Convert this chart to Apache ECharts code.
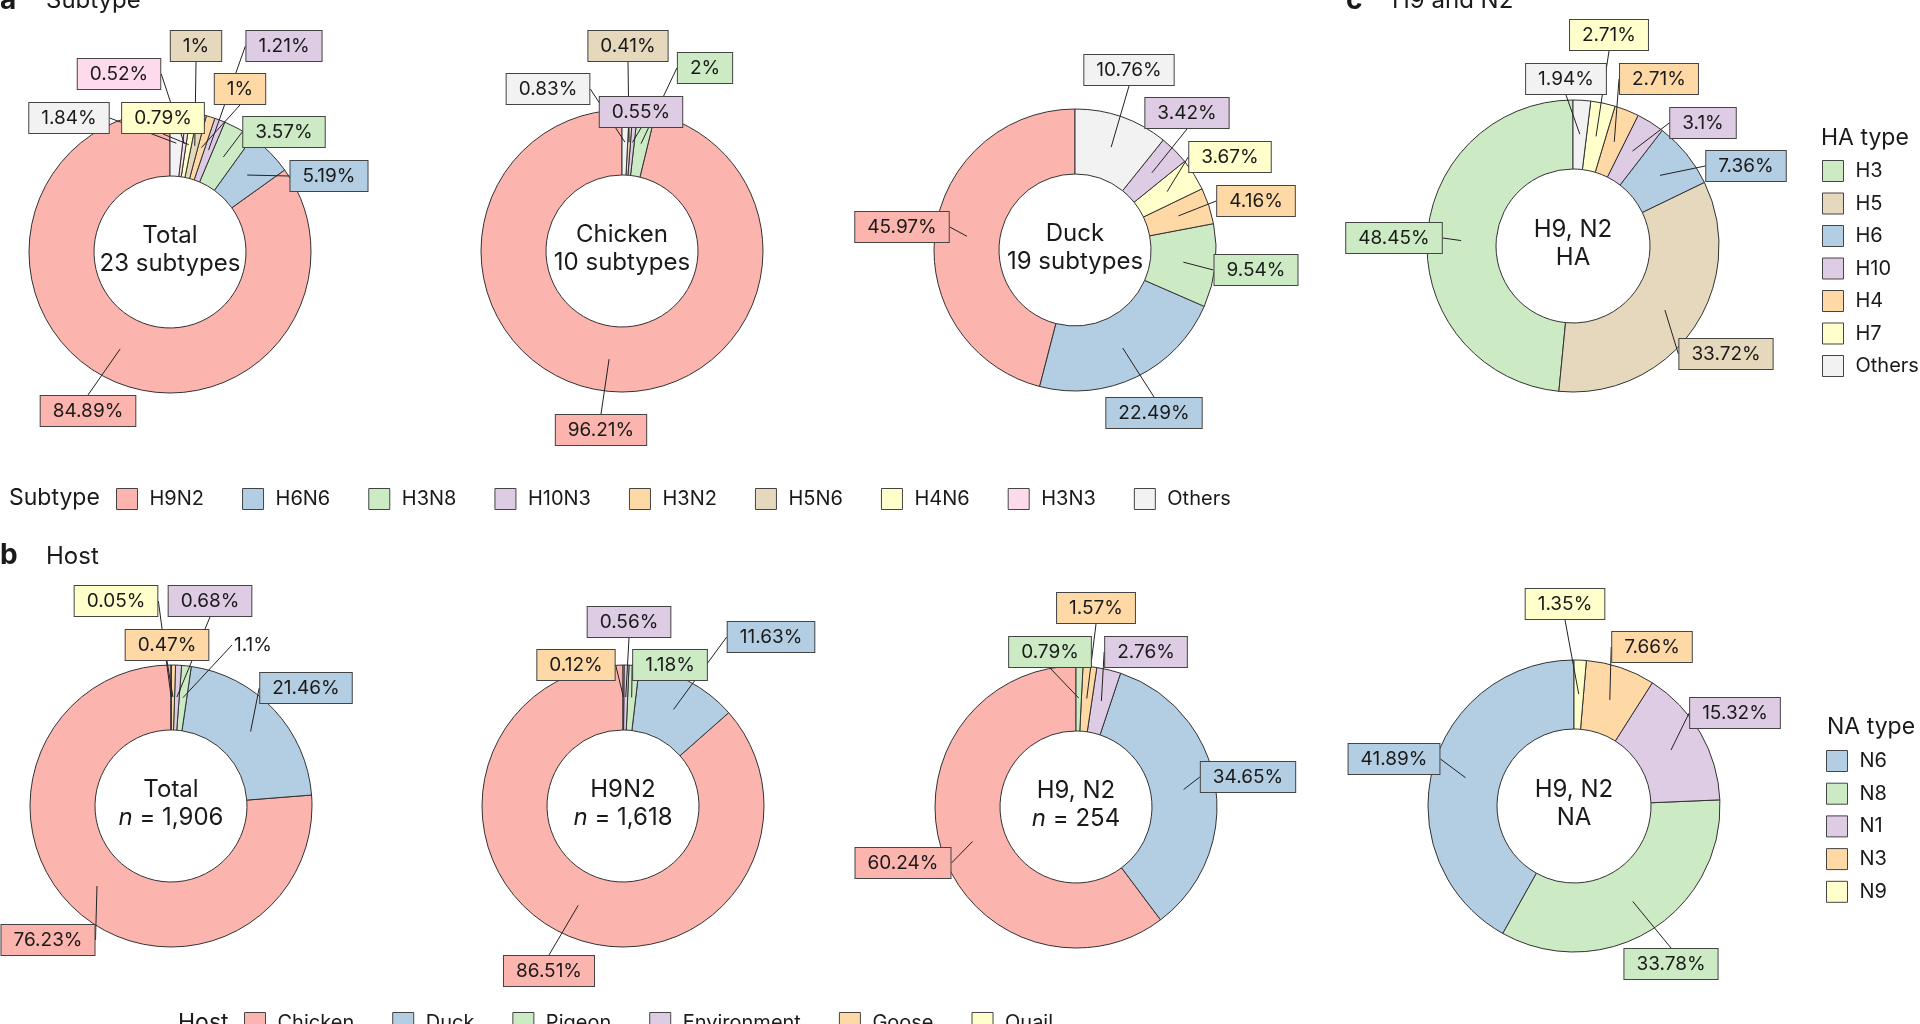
<!DOCTYPE html>
<html lang="en">
<head>
<meta charset="UTF-8">
<title>Subtype and host composition</title>
<style>
  html, body { margin: 0; padding: 0; background: #fff; }
  #main { width: 1920px; height: 1024px; }
</style>
</head>
<body>
<div id="main"></div>
<script src="https://cdn.jsdelivr.net/npm/echarts@6/dist/echarts.min.js"></script>
<script>
  // panel a: subtype share (%)
  const subtypeNames = ['H9N2', 'H6N6', 'H3N8', 'H10N3', 'H3N2', 'H5N6', 'H4N6', 'H3N3', 'Others'];
  const totalSubNames = ['H9N2', 'H6N6', 'H3N8', 'H10N3', 'H3N2', 'H5N6', 'H4N6', 'H3N3', 'Others'];
  const totalSubValues = [84.89, 5.19, 3.57, 1.21, 1, 1, 0.79, 0.52, 1.84];
  const chickenSubNames = ['H9N2', 'H3N8', 'H10N3', 'H5N6', 'Others'];
  const chickenSubValues = [96.21, 2, 0.55, 0.41, 0.83];
  const duckSubNames = ['H9N2', 'H6N6', 'H3N8', 'H3N2', 'H4N6', 'H10N3', 'Others'];
  const duckSubValues = [45.97, 22.49, 9.54, 4.16, 3.67, 3.42, 10.76];

  // panel b: host share (%)
  const hostNames = ['Chicken', 'Duck', 'Pigeon', 'Environment', 'Goose', 'Quail'];
  const totalHostValues = [76.23, 21.46, 1.1, 0.68, 0.47, 0.05];
  const h9n2HostNames = ['Chicken', 'Duck', 'Pigeon', 'Environment', 'Goose'];
  const h9n2HostValues = [86.51, 11.63, 1.18, 0.56, 0.12];
  const h9n2sepHostNames = ['Chicken', 'Duck', 'Environment', 'Goose', 'Pigeon'];
  const h9n2sepHostValues = [60.24, 34.65, 2.76, 1.57, 0.79];

  // panel c: HA / NA type share (%)
  const haNames = ['H3', 'H5', 'H6', 'H10', 'H4', 'H7', 'Others'];
  const haValues = [48.45, 33.72, 7.36, 3.1, 2.71, 2.71, 1.94];
  const naNames = ['N6', 'N8', 'N1', 'N3', 'N9'];
  const naValues = [41.89, 33.78, 15.32, 7.66, 1.35];

  const palette = {
    H9N2: '#fbb4ae', H6N6: '#b3cde3', H3N8: '#ccebc5', H10N3: '#decbe4', H3N2: '#fed9a6',
    H5N6: '#e5d8bd', H4N6: '#ffffcc', H3N3: '#fddaec', Others: '#f2f2f2',
    Chicken: '#fbb4ae', Duck: '#b3cde3', Pigeon: '#ccebc5', Environment: '#decbe4', Goose: '#fed9a6', Quail: '#ffffcc',
    H3: '#ccebc5', H5: '#e5d8bd', H6: '#b3cde3', H10: '#decbe4', H4: '#fed9a6', H7: '#ffffcc',
    N6: '#b3cde3', N8: '#ccebc5', N1: '#decbe4', N3: '#fed9a6', N9: '#ffffcc'
  };

  const font = 'Inter';
  const ink = '#1a1a1a';

  // where each percentage box sits (box centre, px), in data order
  const labelPos = {
    totalSub: [[88, 411], [329, 176], [284, 132], [284, 46], [240, 89], [196, 46], [163, 118], [119, 74], [69, 118]],
    chickenSub: [[601, 430], [705, 68], [641, 112], [628, 46], [548, 89]],
    duckSub: [[902, 227], [1154, 413], [1256, 270], [1256, 201], [1230, 157], [1187, 113], [1129, 70]],
    ha: [[1394, 238], [1726, 354], [1746, 166], [1703, 123], [1659, 79], [1609, 35], [1566, 79]],
    totalHost: [[48, 940], [306, 688], [253, 645], [210, 601], [167, 645], [116, 601]],
    h9n2Host: [[549, 971], [771, 637], [670, 665], [629, 622], [576, 665]],
    h9n2sepHost: [[903, 863], [1248, 777], [1146, 652], [1096, 608], [1050, 652]],
    na: [[1394, 759], [1671, 964], [1735, 713], [1652, 647], [1565, 604]]
  };

  // one ring, plus a transparent pie at mid-ring radius that carries the
  // boxed labels so their leader lines start inside the ring
  function donut(names, values, center, radius, boxes, plain) {
    const rMid = Math.round((radius[0] + radius[1]) / 2);
    const ring = {
      type: 'pie', center: center, radius: radius,
      startAngle: 90, clockwise: false, silent: true,
      itemStyle: { borderColor: '#333', borderWidth: 1 },
      label: { show: false }, labelLine: { show: false },
      emphasis: { disabled: true },
      data: names.map((n, i) => ({ name: n, value: values[i], itemStyle: { color: palette[n] } }))
    };
    const tags = {
      type: 'pie', center: center, radius: [rMid - 1, rMid],
      startAngle: 90, clockwise: false, silent: true, avoidLabelOverlap: false,
      legendHoverLink: false,
      itemStyle: { color: 'rgba(0,0,0,0)', borderWidth: 0 },
      label: {
        show: true, position: 'outside', formatter: '{c}%',
        fontFamily: font, fontSize: 19, lineHeight: 20, color: ink,
        padding: [5, 12], borderColor: '#444', borderWidth: 1
      },
      labelLine: { show: true, showAbove: true, length: 0, length2: 0, smooth: false, lineStyle: { color: '#222', width: 1 } },
      emphasis: { disabled: true },
      labelLayout: function (p) {
        const b = boxes[p.dataIndex];
        return { x: b[0], y: b[1], align: 'center', verticalAlign: 'middle' };
      },
      data: names.map((n, i) => {
        const item = { name: n + ' ', value: values[i], label: { backgroundColor: palette[n] } };
        if (plain && plain.indexOf(n) >= 0) {
          item.label = { backgroundColor: 'transparent', borderWidth: 0, padding: [5, 2] };
        }
        return item;
      })
    };
    return [ring, tags];
  }

  function txt(x, y, text, size, opts) {
    return {
      type: 'text', x: x, y: y, silent: true,
      style: Object.assign({
        text: text, fontFamily: font, fontSize: size, fill: ink,
        align: 'left', verticalAlign: 'middle', textAlign: 'left', textVerticalAlign: 'middle'
      }, opts || {})
    };
  }

  function centreText(x, y, text) {
    return txt(x, y, text, 24, {
      align: 'center', textAlign: 'center', lineHeight: 28,
      rich: { i: { fontStyle: 'italic', fontFamily: font, fontSize: 24, lineHeight: 28, fill: ink } }
    });
  }

  const legendBase = {
    icon: 'rect', itemWidth: 21, itemHeight: 21, padding: 0, selectedMode: false,
    itemStyle: { borderColor: '#444', borderWidth: 1 },
    textStyle: { fontFamily: font, fontSize: 20, color: ink, padding: [0, 0, 0, 7] }
  };

  var myChart = echarts.init(document.getElementById('main'));

  var option = {
    animation: false,
    backgroundColor: '#fff',
    legend: [
      Object.assign({}, legendBase, { data: subtypeNames, left: 116, top: 488, itemGap: 38 }),
      Object.assign({}, legendBase, { data: hostNames, left: 244, top: 1012, itemGap: 38 }),
      Object.assign({}, legendBase, { data: haNames, orient: 'vertical', left: 1822, top: 160, itemGap: 10.5 }),
      Object.assign({}, legendBase, { data: naNames, orient: 'vertical', left: 1826, top: 750, itemGap: 10.7 })
    ],
    graphic: [
      txt(0, 1, 'a', 28, { fontWeight: 'bold' }),
      txt(46, 1, 'Subtype', 24),
      txt(0, 556, 'b', 28, { fontWeight: 'bold' }),
      txt(46, 557, 'Host', 24),
      txt(1346, 1, 'c', 28, { fontWeight: 'bold' }),
      txt(1392, 1, 'H9 and N2', 24),
      txt(9, 498, 'Subtype', 23),
      txt(178, 1023, 'Host', 23),
      txt(1821, 138, 'HA type', 23),
      txt(1827, 727, 'NA type', 23),
      centreText(170, 250, 'Total\n23 subtypes'),
      centreText(622, 249, 'Chicken\n10 subtypes'),
      centreText(1075, 248, 'Duck\n19 subtypes'),
      centreText(1573, 244, 'H9, N2\nHA'),
      centreText(171, 804, 'Total\n{i|n} = 1,906'),
      centreText(623, 804, 'H9N2\n{i|n} = 1,618'),
      centreText(1076, 805, 'H9, N2\n{i|n} = 254'),
      centreText(1574, 804, 'H9, N2\nNA')
    ],
    series: [].concat(
      donut(totalSubNames, totalSubValues, [170, 252], [76, 141], labelPos.totalSub),
      donut(chickenSubNames, chickenSubValues, [622, 251], [76, 141], labelPos.chickenSub),
      donut(duckSubNames, duckSubValues, [1075, 250], [76, 141], labelPos.duckSub),
      donut(haNames, haValues, [1573, 246], [77, 146], labelPos.ha),
      donut(hostNames, totalHostValues, [171, 806], [76, 141], labelPos.totalHost, ['Pigeon']),
      donut(h9n2HostNames, h9n2HostValues, [623, 806], [76, 141], labelPos.h9n2Host),
      donut(h9n2sepHostNames, h9n2sepHostValues, [1076, 807], [76, 141], labelPos.h9n2sepHost),
      donut(naNames, naValues, [1574, 806], [77, 146], labelPos.na)
    )
  };

  myChart.setOption(option);
</script>
</body>
</html>
